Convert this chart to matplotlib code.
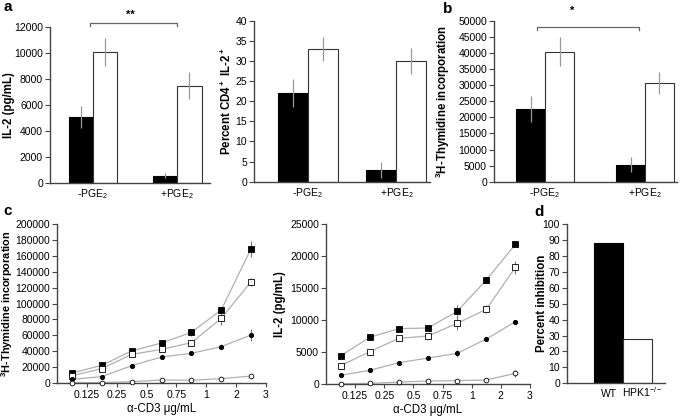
import numpy as np
import matplotlib
matplotlib.use("Agg")
import matplotlib.pyplot as plt

plt.rcParams["font.family"] = ["Liberation Sans", "DejaVu Sans"]
plt.rcParams["mathtext.fontset"] = "custom"
plt.rcParams["mathtext.rm"] = "Liberation Sans"
plt.rcParams["mathtext.it"] = "Liberation Sans:italic"
plt.rcParams["mathtext.bf"] = "Liberation Sans:bold"
plt.rcParams["mathtext.default"] = "regular"

# panel a / b data: WT (black) vs HPK1-/- (white)
groups = ["-PGE$_2$", "+PGE$_2$"]
il2_wt = [5050, 550]
il2_wt_err = [850, 200]
il2_ko = [10100, 7500]
il2_ko_err = [1100, 1050]

cd4_wt = [22, 3]
cd4_wt_err = [3.5, 2]
cd4_ko = [33, 30]
cd4_ko_err = [3, 3.2]

thy_wt = [22600, 5300]
thy_wt_err = [4000, 2300]
thy_ko = [40300, 30700]
thy_ko_err = [4500, 3400]

# panel c data: dose response
dose_labels = ["0.125", "0.25", "0.5", "0.75", "1", "2", "3"]
thy_sq_filled = [12600, 22200, 40300, 50300, 63700, 91800, 169000]
thy_sq_filled_err = [1000, 1500, 1500, 2000, 4000, 3000, 10000]
thy_sq_open = [9200, 18000, 36000, 42300, 50700, 81300, 127400]
thy_sq_open_err = [1000, 1500, 2000, 2000, 3000, 8000, 5000]
thy_dot_filled = [4600, 8000, 21800, 32700, 37300, 45700, 60400]
thy_dot_filled_err = [500, 1000, 1500, 1500, 2000, 3000, 8000]
thy_dot_open = [500, 500, 1700, 3800, 3400, 5500, 8700]
thy_dot_open_err = [200, 200, 500, 500, 500, 800, 1500]

il2_sq_filled = [4380, 7290, 8650, 8750, 11350, 16250, 21830]
il2_sq_filled_err = [200, 300, 200, 300, 1000, 400, 500]
il2_sq_open = [2860, 5050, 7130, 7500, 9480, 11670, 18230]
il2_sq_open_err = [200, 200, 200, 300, 1000, 600, 1000]
il2_dot_filled = [1350, 2140, 3330, 4060, 4790, 7030, 9740]
il2_dot_filled_err = [150, 150, 200, 300, 600, 300, 300]
il2_dot_open = [50, 100, 300, 470, 520, 625, 1670]
il2_dot_open_err = [50, 50, 50, 100, 100, 150, 500]

# panel d data
inhib_labels = ["WT", "HPK1$^{-/-}$"]
inhib = [88, 28]

W, H = 685, 416
fig = plt.figure(figsize=(W / 100, H / 100), dpi=100)

TICK = 7.5
LAB = 8.3
SPINE = "#444444"


def px_axes(l, t, r, b):
    ax = fig.add_axes([l / W, 1 - b / H, (r - l) / W, (b - t) / H])
    for s in ["top", "right"]:
        ax.spines[s].set_visible(False)
    for s in ["left", "bottom"]:
        ax.spines[s].set_color(SPINE)
        ax.spines[s].set_linewidth(1)
    ax.tick_params(axis="y", length=3.5, width=0.8, color=SPINE, labelsize=TICK, pad=1.5)
    ax.tick_params(axis="x", labelsize=TICK)
    return ax


def set_ylab(ax, text, right_px, axis_px, width_px, size=LAB):
    ax.set_ylabel(text, fontsize=size, fontweight="bold")
    ax.yaxis.set_label_coords((right_px - axis_px) / width_px, 0.5)


def bar_panel(ax, wt, wt_err, ko, ko_err, width, xlim, ylim, step):
    x = np.arange(len(groups))
    ax.bar(x - width / 2, wt, width, color="black", edgecolor="black", linewidth=0.8)
    ax.bar(x + width / 2, ko, width, color="white", edgecolor="#333333", linewidth=0.8)
    ax.errorbar(x - width / 2, wt, yerr=wt_err, fmt="none", ecolor="#999999", elinewidth=0.9, capsize=0)
    ax.errorbar(x + width / 2, ko, yerr=ko_err, fmt="none", ecolor="#999999", elinewidth=0.9, capsize=0)
    ax.set_xlim(*xlim)
    ax.set_ylim(*ylim)
    ax.set_yticks(np.arange(ylim[0], ylim[1] + step, step))
    ax.set_xticks(x)
    ax.set_xticklabels(groups)
    ax.tick_params(axis="x", length=0, pad=3)


def bracket(ax, x0, x1, y, drop, star, sx, sy):
    ax.plot([x0, x0, x1, x1], [y - drop, y, y, y - drop], color="#666666", lw=0.9, clip_on=False)
    ax.text(sx, sy, star, ha="center", va="center", fontsize=8, fontweight="bold", clip_on=False)


# a left
ax1 = px_axes(50, 27.3, 210, 182.7)
bar_panel(ax1, il2_wt, il2_wt_err, il2_ko, il2_ko_err, 0.29, (-0.51, 1.39), (0, 12000), 2000)
set_ylab(ax1, "IL-2 (pg/mL)", 15, 50, 160)
bracket(ax1, -0.04, 1.0, 12360, 250, "**", 0.45, 13000)

# a right
ax2 = px_axes(254, 20.7, 430, 181.7)
bar_panel(ax2, cd4_wt, cd4_wt_err, cd4_ko, cd4_ko_err, 0.34, (-0.61, 1.38), (0, 40), 5)
set_ylab(ax2, "Percent CD4$^+$ IL-2$^+$", 234, 254, 176)

# b
ax3 = px_axes(494, 20.7, 677, 181.7)
bar_panel(ax3, thy_wt, thy_wt_err, thy_ko, thy_ko_err, 0.29, (-0.51, 1.32), (0, 50000), 5000)
set_ylab(ax3, "$^3$H-Thymidine incorporation", 452, 494, 183)
bracket(ax3, -0.08, 0.94, 48100, 950, "*", 0.27, 53000)


def dose_panel(ax, series, ylim, step):
    xs = np.arange(len(dose_labels)) + 0.5
    for vals, errs, marker, face, ms in series:
        ax.errorbar(xs, vals, yerr=errs, color="#b0b0b0", lw=0.9, ecolor="#777777",
                    elinewidth=0.8, capsize=0, zorder=2)
        ax.plot(xs, vals, linestyle="none", marker=marker, ms=ms, mfc=face,
                mec="black", mew=0.6, zorder=3, clip_on=False)
    ax.set_xlim(0, len(dose_labels))
    ax.set_xticks(np.arange(1, len(dose_labels) + 1))
    ax.set_xticklabels(dose_labels)
    ax.tick_params(axis="x", length=3, width=0.8, color=SPINE, pad=2)
    ax.set_ylim(*ylim)
    ax.set_yticks(np.arange(ylim[0], ylim[1] + step, step))
    ax.set_xlabel("α-CD3 μg/mL", fontsize=8.3, labelpad=2)


# c left
ax4 = px_axes(57, 224, 266, 383)
dose_panel(ax4, [
    (thy_sq_filled, thy_sq_filled_err, "s", "black", 3.8),
    (thy_sq_open, thy_sq_open_err, "s", "white", 3.8),
    (thy_dot_filled, thy_dot_filled_err, "o", "black", 3.1),
    (thy_dot_open, thy_dot_open_err, "o", "white", 3.4),
], (0, 200000), 20000)
set_ylab(ax4, "$^3$H-Thymidine incorporation", 15.5, 57, 209, size=7.9)

# c right
ax5 = px_axes(326, 224, 530, 384)
dose_panel(ax5, [
    (il2_sq_filled, il2_sq_filled_err, "s", "black", 3.8),
    (il2_sq_open, il2_sq_open_err, "s", "white", 3.8),
    (il2_dot_filled, il2_dot_filled_err, "o", "black", 3.1),
    (il2_dot_open, il2_dot_open_err, "o", "white", 3.4),
], (0, 25000), 5000)
set_ylab(ax5, "IL-2 (pg/mL)", 286, 326, 204)

# d
ax6 = px_axes(567, 224, 665, 383.3)
ax6.bar([0, 1], inhib, 1.0, color=["black", "white"], edgecolor=["black", "#333333"], linewidth=0.8)
ax6.set_xlim(-1.44, 1.94)
ax6.set_ylim(0, 100)
ax6.set_yticks(np.arange(0, 101, 10))
ax6.set_xticks([])
for xpos, lab in zip([0, 1.14], inhib_labels):
    ax6.text(xpos, -0.085, lab, transform=ax6.get_xaxis_transform(), ha="center", va="baseline",
             fontsize=TICK)
set_ylab(ax6, "Percent inhibition", 548, 567, 98)

# panel letters
for letter, x, y in [("a", 8, 7), ("b", 448, 9), ("c", 8, 211), ("d", 539, 212)]:
    fig.text(x / W, 1 - y / H, letter, fontsize=11, fontweight="bold", ha="center", va="center")

fig.savefig("out.png", dpi=100)
